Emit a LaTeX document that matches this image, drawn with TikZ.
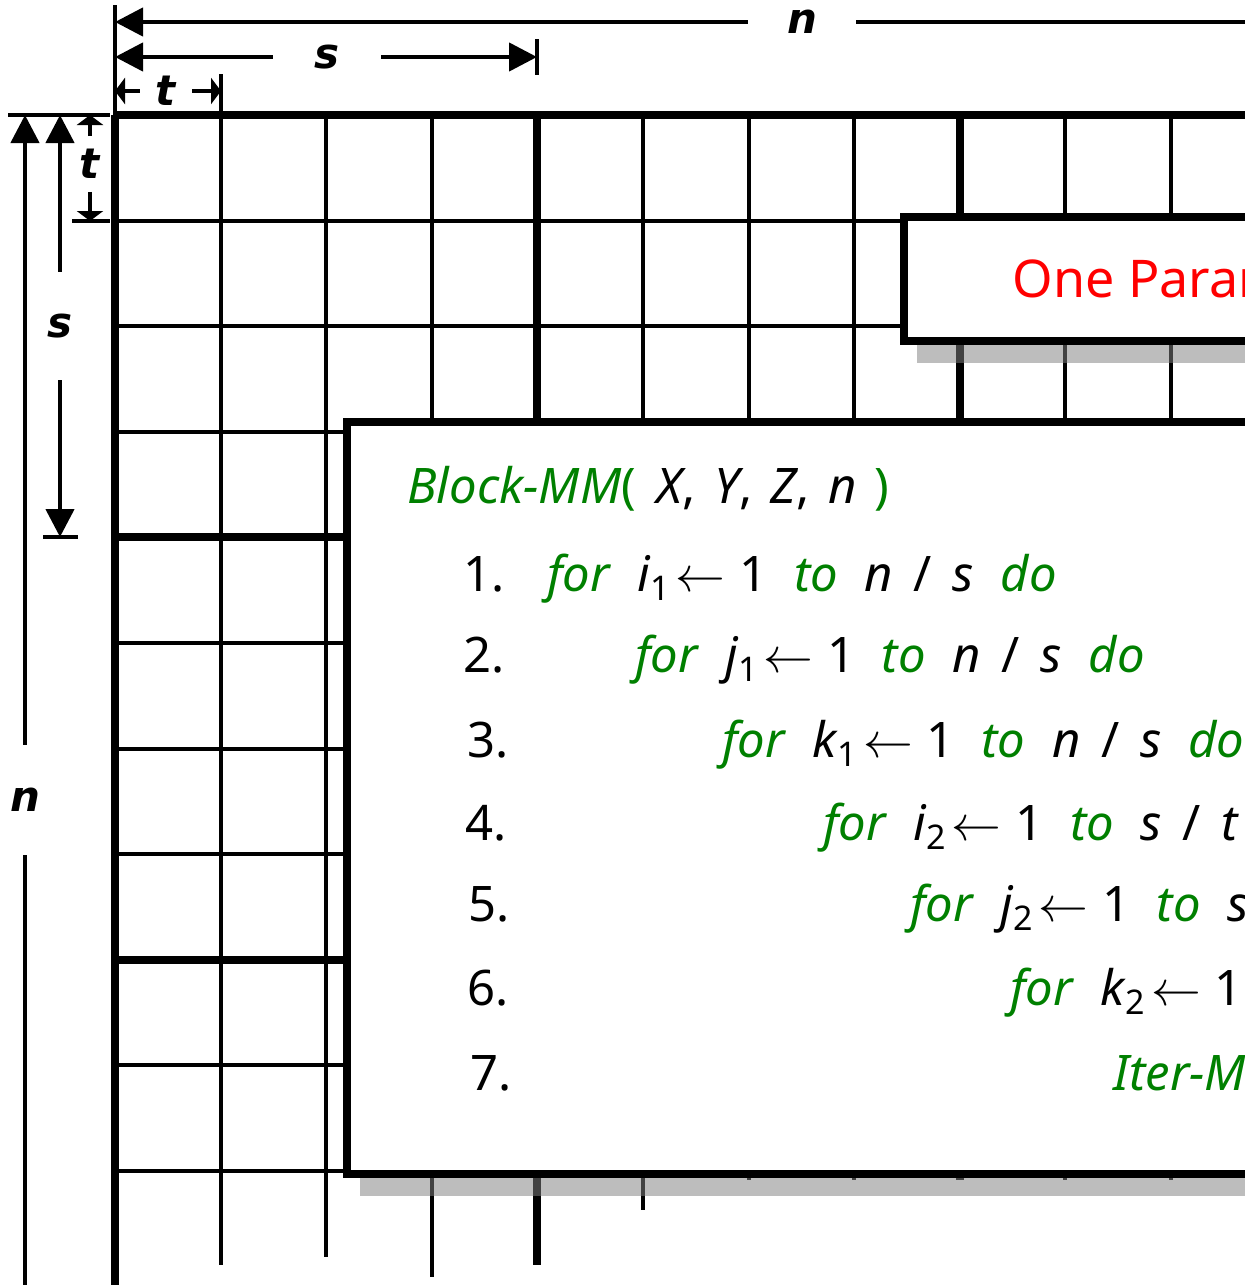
\documentclass[tikz,border=0pt]{standalone}
\usepackage{fontspec}
\usepackage{xcolor}
\usepackage{tikz}
\usetikzlibrary{arrows.meta, positioning, shadows}
\setmainfont{Noto Sans}
\newfontfamily\dimfont{DejaVu Sans}
\definecolor{codeGreen}{HTML}{008000}
\definecolor{titleRed}{HTML}{FF0000}
\newcommand{\kw}[1]{\textcolor{codeGreen}{\itshape #1}}
\newcommand{\idx}[2]{\textit{#1}\raisebox{-0.35ex}{\fontsize{17}{17}\selectfont #2}}
\newcommand{\gp}{\hspace{0.55em}}
\newcommand{\asg}{\hspace{0.12em}$\leftarrow$\hspace{0.28em}}
\newcommand{\ov}{\hspace{0.42em}/\hspace{0.42em}}

\begin{document}
\begin{tikzpicture}[
    x=0.5pt, y=-0.5pt,
    dim/.style={line width=2.2pt},
    bigtip/.style={-{Triangle[length=14pt, width=14pt]}, dim},
    smalltip/.style={-{Triangle[length=5pt, width=13pt]}, dim},
    dimlabel/.style={inner sep=0pt, font=\dimfont\fontsize{21}{24}\selectfont\bfseries\itshape},
    panel/.style={draw, line width=4.2pt, fill=white, anchor=north west, outer sep=0pt,
                  drop shadow={shadow xshift=6.5pt, shadow yshift=-11pt,
                               fill=black!50, opacity=.52}},
    codeline/.style={anchor=base west, inner sep=0pt, font=\fontsize{24.5}{28}\selectfont},
]
\useasboundingbox (0,0) rectangle (1245,1285);
\clip (0,0) rectangle (1245,1285);

% grid of t x t blocks, every fourth line heavier
\foreach \i/\yend in {0/1285, 1/1265, 2/1257, 3/1277, 4/1265, 5/1210,
                      6/1180, 7/1180, 8/1180, 9/1180, 10/1180, 11/1180} {
  \pgfmathsetmacro\lw{mod(\i,4)==0 ? 4 : 2}
  \draw[line width=\lw pt] ({115+105.6*\i}, 115) -- ({115+105.6*\i}, \yend);
}
\foreach \j in {0,...,10} {
  \pgfmathsetmacro\lw{mod(\j,4)==0 ? 4 : 2}
  \draw[line width=\lw pt] (113, {115+105.6*\j}) -- (1300, {115+105.6*\j});
}

% panels
\node[panel, minimum width=300pt, minimum height=62pt] (paramBox) at (904,217) {};
\node[anchor=base west, inner sep=0pt, text=titleRed,
      font=\fontsize{26}{30}\selectfont] (paramTitle) at (1012,297) {One Param};

\node[panel, minimum width=580pt, minimum height=376pt] (codeBox) at (347,422) {};

% pseudocode
\node[codeline] (header) at (407,503)
    {\kw{Block-MM}\textcolor{codeGreen}{(}\hspace{0.42em}\textit{X},\hspace{0.38em}\textit{Y},\hspace{0.38em}\textit{Z},\hspace{0.38em}\textit{n}\hspace{0.35em}\textcolor{codeGreen}{)}};
\foreach \k/\nx/\by in {1/463/591, 2/463/672, 3/467/757, 4/465/840,
                        5/468/921, 6/467/1005, 7/470/1090}
  \node[codeline] (num\k) at (\nx,\by) {\k.};

\node[codeline] (loopA) at (547,591)
    {\kw{for}\gp\idx{i}{1}\asg 1\gp\kw{to}\gp\textit{n}\ov\textit{s}\gp\kw{do}};
\node[codeline] (loopB) at (635,672)
    {\kw{for}\gp\idx{j}{1}\asg 1\gp\kw{to}\gp\textit{n}\ov\textit{s}\gp\kw{do}};
\node[codeline] (loopC) at (722,757)
    {\kw{for}\gp\idx{k}{1}\asg 1\gp\kw{to}\gp\textit{n}\ov\textit{s}\gp\kw{do}};
\node[codeline] (loopD) at (823,840)
    {\kw{for}\gp\idx{i}{2}\asg 1\gp\kw{to}\gp\textit{s}\ov\textit{t}};
\node[codeline] (loopE) at (910,921)
    {\kw{for}\gp\idx{j}{2}\asg 1\gp\kw{to}\gp\textit{s}};
\node[codeline] (loopF) at (1010,1005)
    {\kw{for}\gp\idx{k}{2}\asg 1};
\node[codeline] (iter) at (1113,1090) {\kw{Iter-M}};

% dimensions along the top
\coordinate (nxL) at (115,22);
\coordinate (nxR) at (1300,22);
\node[dimlabel, minimum width=54pt] (nTop) at (802,22) {n};
\draw[bigtip] (nTop.west) -- (nxL);
\draw[dim] (nTop.east) -- (nxR);

\coordinate (sxL) at (115,57);
\coordinate (sxR) at (537,57);
\node[dimlabel, minimum width=54pt] (sTop) at (327,57) {s};
\draw[bigtip] (sTop.west) -- (sxL);
\draw[bigtip] (sTop.east) -- (sxR);

\coordinate (txL) at (115,91);
\coordinate (txR) at (221,91);
\node[dimlabel, minimum width=26pt] (tTop) at (166,91) {t};
\draw[smalltip] (tTop.west) -- (txL);
\draw[smalltip] (tTop.east) -- (txR);

\draw[dim] (115,5) -- (115,115);
\draw[dim] (537,39) -- (537,75);
\draw[dim] (221,74) -- (221,113);

% dimensions along the left
\coordinate (nyT) at (25,115);
\coordinate (nyB) at (25,1300);
\node[dimlabel, minimum height=55pt] (nLeft) at (25,800) {n};
\draw[bigtip] (nLeft.north) -- (nyT);
\draw[dim] (nLeft.south) -- (nyB);

\coordinate (syT) at (60,115);
\coordinate (syB) at (60,537);
\node[dimlabel, minimum height=54pt] (sLeft) at (60,326) {s};
\draw[bigtip] (sLeft.north) -- (syT);
\draw[bigtip] (sLeft.south) -- (syB);

\coordinate (tyT) at (90,115);
\coordinate (tyB) at (90,221);
\node[dimlabel, minimum height=27.5pt] (tLeft) at (90,164) {t};
\draw[smalltip] (tLeft.north) -- (tyT);
\draw[smalltip] (tLeft.south) -- (tyB);

\draw[dim] (8,115) -- (110,115);
\draw[dim] (43,537) -- (78,537);
\draw[dim] (72,221) -- (110,221);
\end{tikzpicture}
\end{document}
